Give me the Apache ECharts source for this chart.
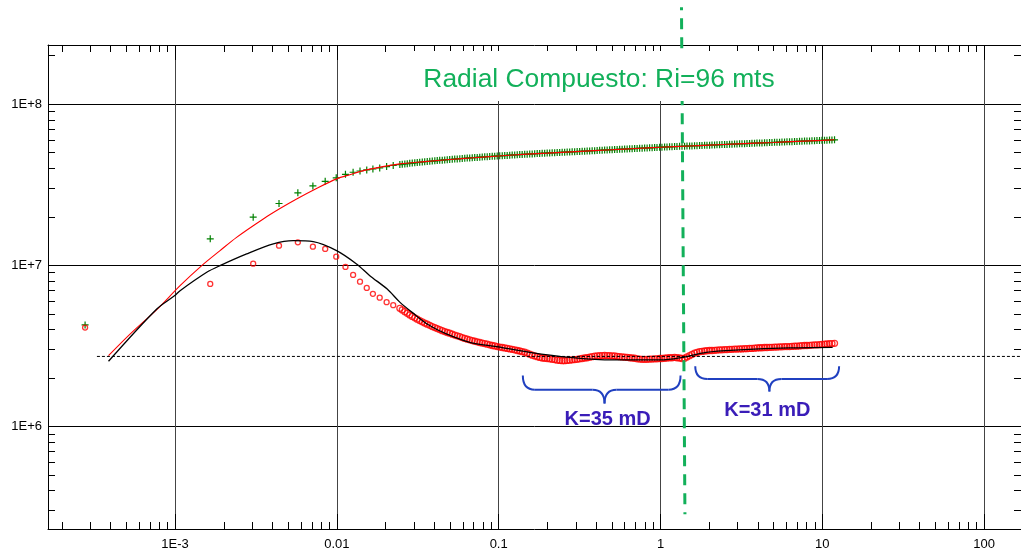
<!DOCTYPE html>
<html><head><meta charset="utf-8">
<script src="https://cdn.jsdelivr.net/npm/echarts@6/dist/echarts.min.js"></script>
<style>html,body{margin:0;padding:0;background:#fff}#c{width:1021px;height:555px}</style>
</head><body><div id="c"></div>
<script>
// ---- axis ticks / labels ----
const xMajorTicks = [0.001, 0.01, 0.1, 1, 10, 100];
const xTickLabels = ['1E-3', '0.01', '0.1', '1', '10', '100'];
const yMajorTicks = [1e6, 1e7, 1e8];
const yTickLabels = ['1E+6', '1E+7', '1E+8'];
const minorSteps = [2, 3, 4, 5, 6, 7, 8, 9];
const xDecades = [1e-4, 1e-3, 1e-2, 1e-1, 1, 10, 100];
const yDecades = [1e5, 1e6, 1e7, 1e8];
const xMin = 1.64e-4, xMax = 169, yMin = 2.31e5, yMax = 2.33e8;

// ---- measured data (time in hours) ----
const times = [0.000278, 0.00165, 0.00304, 0.00439, 0.00574, 0.00711, 0.00847, 0.00991, 0.0113, 0.0126, 0.0139, 0.0153, 0.0167, 0.0184, 0.0203, 0.0223,
  0.0245, 0.0263, 0.0282, 0.0303, 0.0325, 0.0349, 0.0375, 0.0403, 0.0432, 0.0464, 0.0498, 0.0535, 0.0575, 0.0617, 0.0662, 0.0711, 0.0764, 0.0820, 0.0880, 0.0945,
  0.1015, 0.109, 0.117, 0.1256, 0.1349, 0.1448, 0.1555, 0.1669, 0.1792, 0.1924, 0.2066, 0.2218, 0.2382, 0.2557, 0.2746, 0.2948, 0.3166, 0.3399, 0.3649, 0.3918,
  0.4207, 0.4517, 0.4850, 0.5207, 0.5591, 0.6003, 0.6446, 0.6921, 0.7431, 0.7979, 0.8567, 0.9198, 0.9876, 1.060, 1.138, 1.222, 1.312, 1.409, 1.513, 1.624,
  1.744, 1.873, 2.011, 2.159, 2.318, 2.489, 2.672, 2.869, 3.081, 3.308, 3.552, 3.813, 4.094, 4.396, 4.720, 5.068, 5.442, 5.843, 6.273, 6.736,
  7.232, 7.765, 8.337, 8.952, 9.612, 10.32, 11.08, 11.90];
const pressure = [4.27e6, 1.46e7, 1.99e7, 2.42e7, 2.82e7, 3.11e7, 3.32e7, 3.49e7, 3.67e7, 3.78e7, 3.85e7, 3.91e7, 3.96e7, 4.02e7, 4.10e7, 4.17e7,
  4.220e7, 4.258e7, 4.294e7, 4.328e7, 4.361e7, 4.393e7, 4.423e7, 4.453e7, 4.482e7, 4.510e7, 4.537e7, 4.564e7, 4.590e7, 4.615e7, 4.640e7, 4.664e7, 4.688e7, 4.711e7, 4.734e7, 4.757e7,
  4.779e7, 4.801e7, 4.823e7, 4.844e7, 4.865e7, 4.886e7, 4.906e7, 4.926e7, 4.945e7, 4.964e7, 4.983e7, 5.002e7, 5.020e7, 5.038e7, 5.056e7, 5.075e7, 5.093e7, 5.112e7, 5.131e7, 5.150e7,
  5.170e7, 5.189e7, 5.209e7, 5.228e7, 5.248e7, 5.267e7, 5.286e7, 5.305e7, 5.324e7, 5.342e7, 5.361e7, 5.380e7, 5.398e7, 5.417e7, 5.436e7, 5.455e7, 5.474e7, 5.489e7, 5.504e7, 5.520e7,
  5.537e7, 5.554e7, 5.570e7, 5.587e7, 5.604e7, 5.621e7, 5.638e7, 5.656e7, 5.673e7, 5.690e7, 5.707e7, 5.725e7, 5.742e7, 5.760e7, 5.777e7, 5.795e7,
  5.813e7, 5.830e7, 5.848e7, 5.866e7, 5.884e7, 5.902e7, 5.920e7, 5.938e7, 5.956e7, 5.975e7, 5.993e7, 6.012e7];
const derivative = [4.11e6, 7.67e6, 1.024e7, 1.325e7, 1.389e7, 1.306e7, 1.264e7, 1.132e7, 9.77e6, 8.72e6, 7.92e6, 7.24e6, 6.65e6, 6.30e6, 5.91e6, 5.66e6,
  5.41e6, 5.16e6, 4.92e6, 4.72e6, 4.54e6, 4.38e6, 4.24e6, 4.11e6, 3.99e6, 3.88e6, 3.79e6, 3.69e6, 3.61e6, 3.52e6, 3.45e6, 3.38e6, 3.32e6, 3.27e6, 3.21e6, 3.16e6,
  3.11e6, 3.07e6, 3.03e6, 2.99e6, 2.94e6, 2.89e6, 2.81e6, 2.74e6, 2.68e6, 2.65e6, 2.63e6, 2.60e6, 2.57e6, 2.56e6, 2.58e6, 2.60e6, 2.63e6, 2.66e6, 2.69e6, 2.73e6,
  2.75e6, 2.76e6, 2.75e6, 2.74e6, 2.71e6, 2.69e6, 2.67e6, 2.65e6, 2.62e6, 2.61e6, 2.62e6, 2.63e6, 2.64e6, 2.65e6, 2.67e6, 2.68e6, 2.66e6, 2.65e6, 2.75e6, 2.85e6,
  2.91e6, 2.94e6, 2.96e6, 2.97e6, 2.99e6, 3.00e6, 3.01e6, 3.02e6, 3.03e6, 3.04e6, 3.05e6, 3.06e6, 3.08e6, 3.09e6, 3.10e6, 3.11e6,
  3.12e6, 3.13e6, 3.13e6, 3.15e6, 3.16e6, 3.18e6, 3.19e6, 3.21e6, 3.22e6, 3.24e6, 3.27e6, 3.28e6];
// further samples read between the ones above in the dense late-time band
const timesMid = [0.02536, 0.02723, 0.02924, 0.03139, 0.03371, 0.03619, 0.03886, 0.04172, 0.04480, 0.04810, 0.05165, 0.05545, 0.05954, 0.06393, 0.06864, 0.07370, 0.07913, 0.08496, 0.09122, 0.09794,
  0.1052, 0.1129, 0.1212, 0.1302, 0.1397, 0.1500, 0.1611, 0.1730, 0.1857, 0.1994, 0.2141, 0.2299, 0.2468, 0.2650, 0.2845, 0.3055, 0.3280, 0.3522, 0.3781, 0.4060,
  0.4359, 0.4681, 0.5026, 0.5396, 0.5794, 0.6221, 0.6679, 0.7171, 0.7700, 0.8268, 0.8877, 0.9515, 1.021, 1.097, 1.178, 1.264, 1.358, 1.458, 1.565, 1.681,
  1.805, 1.938, 2.081, 2.234, 2.399, 2.576, 2.766, 2.970, 3.189, 3.424, 3.676, 3.947, 4.238, 4.550, 4.886, 5.246, 5.633, 6.048, 6.494, 6.972,
  7.486, 8.038, 8.631, 9.267, 9.950, 10.68, 11.47];
const pressureMid = [4.239e7, 4.276e7, 4.311e7, 4.345e7, 4.377e7, 4.408e7, 4.438e7, 4.468e7, 4.496e7, 4.524e7, 4.551e7, 4.577e7, 4.603e7, 4.628e7, 4.652e7, 4.676e7, 4.700e7, 4.723e7, 4.746e7, 4.768e7,
  4.790e7, 4.812e7, 4.834e7, 4.855e7, 4.876e7, 4.896e7, 4.916e7, 4.936e7, 4.955e7, 4.974e7, 4.993e7, 5.011e7, 5.029e7, 5.047e7, 5.066e7, 5.084e7, 5.103e7, 5.122e7, 5.141e7, 5.160e7,
  5.180e7, 5.199e7, 5.219e7, 5.238e7, 5.258e7, 5.277e7, 5.296e7, 5.315e7, 5.333e7, 5.352e7, 5.371e7, 5.389e7, 5.408e7, 5.427e7, 5.446e7, 5.465e7, 5.482e7, 5.497e7, 5.512e7, 5.529e7,
  5.546e7, 5.562e7, 5.579e7, 5.596e7, 5.613e7, 5.630e7, 5.647e7, 5.665e7, 5.682e7, 5.699e7, 5.716e7, 5.734e7, 5.751e7, 5.769e7, 5.786e7, 5.804e7, 5.822e7, 5.839e7, 5.857e7, 5.875e7,
  5.893e7, 5.911e7, 5.929e7, 5.947e7, 5.966e7, 5.984e7, 6.003e7];
const derivativeMid = [5.29e6, 5.04e6, 4.82e6, 4.63e6, 4.46e6, 4.31e6, 4.17e6, 4.05e6, 3.93e6, 3.83e6, 3.74e6, 3.65e6, 3.56e6, 3.48e6, 3.41e6, 3.35e6, 3.29e6, 3.24e6, 3.18e6, 3.13e6,
  3.09e6, 3.05e6, 3.01e6, 2.96e6, 2.91e6, 2.85e6, 2.77e6, 2.71e6, 2.66e6, 2.64e6, 2.61e6, 2.58e6, 2.56e6, 2.57e6, 2.59e6, 2.61e6, 2.64e6, 2.67e6, 2.71e6, 2.74e6,
  2.75e6, 2.75e6, 2.74e6, 2.72e6, 2.70e6, 2.68e6, 2.66e6, 2.63e6, 2.61e6, 2.61e6, 2.62e6, 2.63e6, 2.64e6, 2.66e6, 2.67e6, 2.67e6, 2.64e6, 2.70e6, 2.80e6, 2.88e6,
  2.92e6, 2.95e6, 2.96e6, 2.98e6, 2.99e6, 3.00e6, 3.01e6, 3.02e6, 3.03e6, 3.04e6, 3.05e6, 3.07e6, 3.08e6, 3.09e6, 3.10e6, 3.11e6, 3.12e6, 3.13e6, 3.14e6, 3.15e6,
  3.17e6, 3.18e6, 3.20e6, 3.21e6, 3.23e6, 3.25e6, 3.27e6];

// ---- model curves ----
const modelPT = [3.88e-4, 5.27e-4, 7.71e-4, 1.074e-3, 1.462e-3, 1.897e-3, 2.40e-3, 3.51e-3, 4.45e-3, 5.64e-3, 7.64e-3, 9.96e-3, 1.202e-2, 1.525e-2, 2.45e-2, 0.035,
  0.05, 0.07, 0.1, 0.15, 0.2, 0.3, 0.5, 0.7, 1, 1.5, 2, 3, 5, 7, 10, 11.9];
const modelP = [2.75e6, 3.74e6, 5.31e6, 7.48e6, 9.96e6, 1.234e7, 1.492e7, 1.94e7, 2.25e7, 2.58e7, 3.03e7, 3.44e7, 3.65e7, 3.91e7, 4.26e7, 4.40e7,
  4.54e7, 4.65e7, 4.77e7, 4.90e7, 4.97e7, 5.08e7, 5.22e7, 5.31e7, 5.40e7, 5.50e7, 5.57e7, 5.67e7, 5.79e7, 5.88e7, 5.96e7, 6.01e7];
const modelDT = [3.88e-4, 7.71e-4, 9.96e-4, 1.074e-3, 1.57e-3, 1.897e-3, 2.77e-3, 4.05e-3, 5.37e-3, 7.14e-3, 9.96e-3, 1.323e-2, 1.598e-2, 2.047e-2,
  2.448e-2, 2.958e-2, 3.698e-2, 4.75e-2, 6.62e-2, 9.68e-2, 0.1553, 0.2744, 0.5077, 0.9858, 1.31, 1.915, 3.074, 6.256, 11.58];
const modelD = [2.54e6, 5.36e6, 6.49e6, 6.96e6, 9.05e6, 9.96e6, 1.177e7, 1.358e7, 1.423e7, 1.403e7, 1.234e7, 1.02e7, 8.63e6, 7.12e6,
  5.91e6, 5.05e6, 4.26e6, 3.75e6, 3.33e6, 3.13e6, 2.886e6, 2.687e6, 2.589e6, 2.589e6, 2.665e6, 2.886e6, 2.987e6, 3.074e6, 3.10e6];

// ---- reference lines & annotations ----
const stabilizationX = [3.29e-4, 169];
const stabilizationY = [2.72e6, 2.72e6];
const radiusLineX = [1.348, 1.416];
const radiusLineY = [3.99e8, 2.85e5];
const titleText = 'Radial Compuesto: Ri=96 mts';
const braceX = [[0.141, 0.451, 1.33], [1.64, 4.71, 12.7]];
const braceY = [[2.07e6, 1.69e6, 1.39e6], [2.36e6, 1.97e6, 1.65e6]];
const kLabels = ['K=35 mD', 'K=31 mD'];
const kLabelPos = [[0.471, 1.10e6], [4.57, 1.26e6]];

const pairs = (xs, ys) => xs.map((x, i) => [x, ys[i]]);
const minorOf = (decs, lo, hi) => decs.flatMap(d => minorSteps.map(m => m * d)).filter(v => v >= lo && v <= hi);
const xMinor = minorOf(xDecades, xMin, xMax);
const yMinor = minorOf(yDecades, yMin, yMax);
const lblFmt = (ticks, labels) => v => {
  const e = Math.round(Math.log10(v));
  const i = ticks.findIndex(t => Math.round(Math.log10(t)) === e);
  return i >= 0 ? labels[i] : '';
};
const FONT = '"Liberation Sans", Arial, sans-serif';

function xAx(pos, major, withLabel) {
  return {
    type: 'log', logBase: 10, min: xMin, max: xMax, position: pos, gridIndex: 0,
    axisLine: { show: major, onZero: false, lineStyle: { color: '#000', width: 1 } },
    axisTick: { show: true, inside: true, length: major ? 15 : 7, customValues: major ? xMajorTicks : xMinor, lineStyle: { color: '#000', width: 1 } },
    axisLabel: withLabel ? { show: true, customValues: xMajorTicks, formatter: lblFmt(xMajorTicks, xTickLabels), color: '#000', fontSize: 13, fontFamily: FONT, margin: 9 } : { show: false },
    splitLine: { show: withLabel, lineStyle: { color: '#444', width: 1 } },
    minorTick: { show: false }, minorSplitLine: { show: false }
  };
}
function yAx(pos, major, withLabel) {
  return {
    type: 'log', logBase: 10, min: yMin, max: yMax, position: pos, gridIndex: 0,
    axisLine: { show: major, onZero: false, lineStyle: { color: '#000', width: 1 } },
    axisTick: { show: true, inside: true, length: major ? 16 : 7, customValues: major ? yMajorTicks : yMinor, lineStyle: { color: '#000', width: 1 } },
    axisLabel: withLabel ? { show: true, customValues: yMajorTicks, formatter: lblFmt(yMajorTicks, yTickLabels), color: '#000', fontSize: 13, fontFamily: FONT, margin: 6 } : { show: false },
    splitLine: { show: withLabel, lineStyle: { color: '#000', width: 1 } },
    minorTick: { show: false }, minorSplitLine: { show: false }
  };
}

const chart = echarts.init(document.getElementById('c'), null, { renderer: 'canvas' });
chart.setOption({
  animation: false,
  backgroundColor: '#fff',
  grid: { left: 48, right: -1, top: 45, bottom: 26, containLabel: false },
  xAxis: [xAx('bottom', true, true), xAx('bottom', false, false), xAx('top', true, false), xAx('top', false, false)],
  yAxis: [yAx('left', true, true), yAx('left', false, false), yAx('right', true, false), yAx('right', false, false)],
  graphic: [
    { type: 'rect', z: 50, shape: { x: 414, y: 51, width: 372, height: 50 }, style: { fill: '#fff' } },
    { type: 'text', x: 599, y: 80, z: 51,
      style: { text: titleText, fill: '#12B05A', font: '26.4px ' + FONT, align: 'center', verticalAlign: 'middle', textAlign: 'center', textVerticalAlign: 'middle' } }
  ],
  series: [
    { type: 'scatter', name: 'pressure', xAxisIndex: 0, yAxisIndex: 0, data: pairs(times, pressure).concat(pairs(timesMid, pressureMid)),
      symbol: 'path://M5,0L5,10M0,5L10,5', symbolSize: 7,
      itemStyle: { color: '#008000', borderColor: '#008000', borderWidth: 1.2, opacity: 1 } },
    { type: 'scatter', name: 'derivative', xAxisIndex: 0, yAxisIndex: 0, data: pairs(times, derivative).concat(pairs(timesMid, derivativeMid)),
      symbol: 'circle', symbolSize: v => (v[0] > 0.024 ? 6 : 5),
      itemStyle: { color: 'rgba(0,0,0,0)', borderColor: '#ff0000', borderWidth: 1.3 } },
    { type: 'line', name: 'model pressure', xAxisIndex: 0, yAxisIndex: 0, data: pairs(modelPT, modelP),
      showSymbol: false, symbol: 'none', smooth: 0.3, lineStyle: { color: '#ff0000', width: 1.1 } },
    { type: 'line', name: 'model derivative', xAxisIndex: 0, yAxisIndex: 0, data: pairs(modelDT, modelD),
      showSymbol: false, symbol: 'none', smooth: 0.3, lineStyle: { color: '#000', width: 1.3 } },
    { type: 'line', name: 'stabilization', xAxisIndex: 0, yAxisIndex: 0, data: pairs(stabilizationX, stabilizationY),
      showSymbol: false, symbol: 'none', lineStyle: { color: '#000', width: 1, type: [3, 2] } },
    { type: 'line', name: 'radius', xAxisIndex: 0, yAxisIndex: 0, data: pairs(radiusLineX, radiusLineY), clip: false, z: 5,
      showSymbol: false, symbol: 'none', lineStyle: { color: '#12B05A', width: 3, type: [11, 8], dashOffset: 8 } },
    { type: 'custom', name: 'braces', xAxisIndex: 0, yAxisIndex: 0, clip: false, z: 6,
      data: braceX.map((b, i) => [b[1], braceY[i][1]]),
      renderItem: (params, api) => {
        const i = params.dataIndex;
        const bx = braceX[i], by = braceY[i];
        const L = api.coord([bx[0], by[0]]);
        const M = api.coord([bx[1], by[1]]);
        const R = api.coord([bx[2], by[0]]);
        const T = api.coord([bx[1], by[2]]);
        const P = api.coord(kLabelPos[i]);
        const yTop = L[1], yMid = M[1], xm = M[0], yTip = T[1], r = 12;
        const st = { stroke: '#2040C0', lineWidth: 2, fill: null };
        return { type: 'group', children: [
          { type: 'bezierCurve', shape: { x1: L[0], y1: yTop, cpx1: L[0], cpy1: yMid, x2: L[0] + r, y2: yMid }, style: st },
          { type: 'line', shape: { x1: L[0] + r, y1: yMid, x2: xm - r, y2: yMid }, style: st },
          { type: 'bezierCurve', shape: { x1: xm - r, y1: yMid, cpx1: xm, cpy1: yMid, x2: xm, y2: yTip }, style: st },
          { type: 'bezierCurve', shape: { x1: xm, y1: yTip, cpx1: xm, cpy1: yMid, x2: xm + r, y2: yMid }, style: st },
          { type: 'line', shape: { x1: xm + r, y1: yMid, x2: R[0] - r, y2: yMid }, style: st },
          { type: 'bezierCurve', shape: { x1: R[0] - r, y1: yMid, cpx1: R[0], cpy1: yMid, x2: R[0], y2: yTop }, style: st },
          { type: 'text', x: P[0], y: P[1], style: { text: kLabels[i], fill: '#3A1DB8', font: 'bold 20px ' + FONT,
            align: 'center', verticalAlign: 'middle', textAlign: 'center', textVerticalAlign: 'middle' } }
        ] };
      }
    }
  ]
});
</script></body></html>
